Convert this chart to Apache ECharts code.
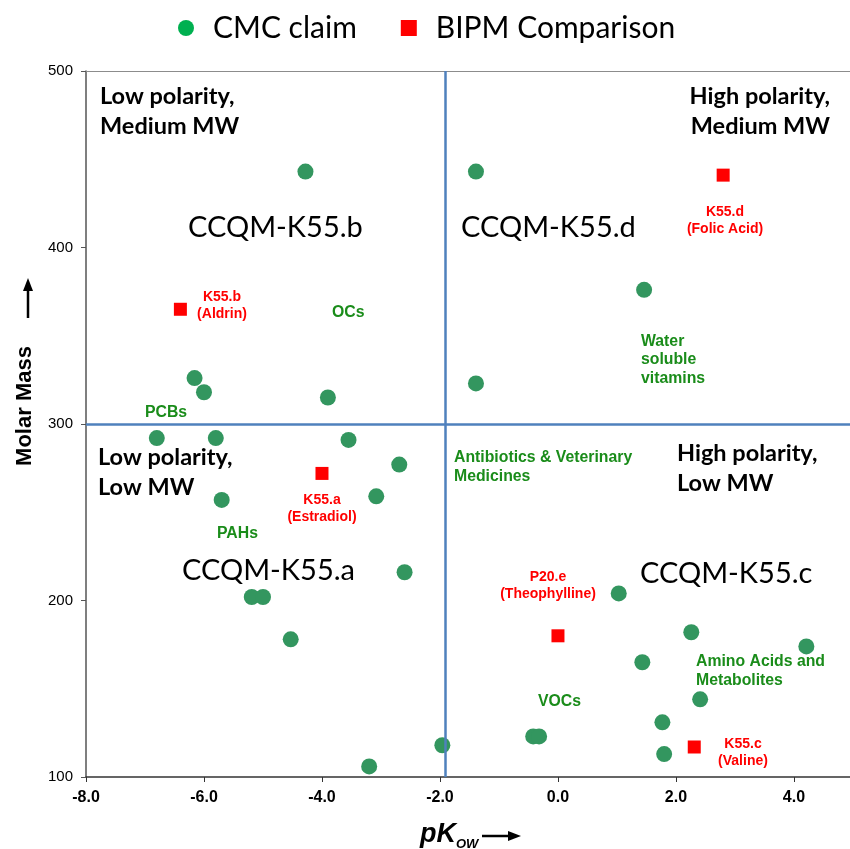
<!DOCTYPE html>
<html>
<head>
<meta charset="utf-8">
<script src="https://cdn.jsdelivr.net/npm/echarts@6/dist/echarts.min.js"></script>
<style>
  html, body { margin: 0; padding: 0; background: #fff; }
  #chart { width: 850px; height: 849px; }
</style>
</head>
<body>
<div id="chart"></div>
<script>
// CMC claims: pKow and molar mass
const cmcPkow = [-4.28, -1.39, 1.46, -1.39, -6.16, -6.00, -3.90, -6.80, -5.80, -3.55,
                 -2.69, -3.08, -5.70, -2.60, -5.19, -5.00, -4.53, -1.96, -3.20, -0.42,
                 -0.32, 1.03, 2.26, 1.43, 4.21, 2.41, 1.77, 1.80];
const cmcMass = [443, 443, 376, 323, 326, 318, 315, 292, 292, 291,
                 277, 259, 257, 216, 202, 202, 178, 118, 106, 123,
                 123, 204, 182, 165, 174, 144, 131, 113];

// BIPM key comparisons
const bipmNames = ['K55.b (Aldrin)', 'K55.a (Estradiol)', 'P20.e (Theophylline)', 'K55.d (Folic Acid)', 'K55.c (Valine)'];
const bipmPkow = [-6.40, -4.00, 0.00, 2.80, 2.31];
const bipmMass = [365, 272, 180, 441, 117];

// quadrant dividers
const pkowDivider = -1.91;
const massDivider = 300;

// axis ranges
const xMin = -8, xMax = 4.95, xStep = 2;
const yMin = 100, yMax = 500, yStep = 100;

const GREEN_DOT = '#33965f';
const GREEN_TXT = '#1a8c1a';
const RED = '#ff0000';
const BLUE = '#4f81bd';
const SANS = '"Liberation Sans", Arial, sans-serif';
const HUMANIST = 'Lato, "Open Sans", sans-serif';

const chart = echarts.init(document.getElementById('chart'));

function txt(text, x, y, opts) {
  return {
    type: 'text', silent: true, z: 20,
    style: Object.assign({
      text: text, x: x, y: y,
      fill: '#000', align: 'left', verticalAlign: 'middle'
    }, opts)
  };
}

const quadFont = { fontFamily: HUMANIST, fontWeight: 'bold', fontSize: 23.5, lineHeight: 30 };
const bigFont = { fontFamily: HUMANIST, fontWeight: 'normal', fontSize: 29 };
const greenFont = { fontFamily: SANS, fontWeight: 'bold', fontSize: 15.8, lineHeight: 18.5, fill: GREEN_TXT };
const redFont = { fontFamily: SANS, fontWeight: 'bold', fontSize: 14, lineHeight: 16.7, fill: RED, align: 'center' };

const graphics = [
  // quadrant headings
  txt('Low polarity,\nMedium MW', 100, 111, quadFont),
  txt('High polarity,\nMedium MW', 830, 111, Object.assign({}, quadFont, { align: 'right' })),
  txt('Low polarity,\nLow MW', 98, 472, quadFont),
  txt('High polarity,\nLow MW', 677, 468, quadFont),
  // comparison names
  txt('CCQM-K55.b', 188, 228, bigFont),
  txt('CCQM-K55.d', 461, 228, bigFont),
  txt('CCQM-K55.a', 182, 571, bigFont),
  txt('CCQM-K55.c', 640, 574, bigFont),
  // analyte groups
  txt('OCs', 332, 313, greenFont),
  txt('PCBs', 145, 413, greenFont),
  txt('Water\nsoluble\nvitamins', 641, 360, greenFont),
  txt('PAHs', 217, 534, greenFont),
  txt('Antibiotics & Veterinary\nMedicines', 454, 467, greenFont),
  txt('VOCs', 538, 702, greenFont),
  txt('Amino Acids and\nMetabolites', 696, 671, greenFont),
  // comparison analytes
  txt('K55.b\n(Aldrin)', 222, 305.5, redFont),
  txt('K55.d\n(Folic Acid)', 725, 220.5, redFont),
  txt('K55.a\n(Estradiol)', 322, 508.5, redFont),
  txt('P20.e\n(Theophylline)', 548, 585.5, redFont),
  txt('K55.c\n(Valine)', 743, 752.5, redFont),
  // y-axis title with arrow
  {
    type: 'text', silent: true, rotation: Math.PI / 2, x: 25, y: 406,
    style: { text: 'Molar Mass', fontFamily: SANS, fontWeight: 'bold', fontSize: 22,
             fill: '#000', align: 'center', verticalAlign: 'middle' }
  },
  { type: 'line', silent: true, shape: { x1: 28, y1: 318, x2: 28, y2: 288 },
    style: { stroke: '#000', lineWidth: 2.5 } },
  { type: 'polygon', silent: true, shape: { points: [[28, 278], [23, 291], [33, 291]] },
    style: { fill: '#000' } },
  // x-axis title with arrow
  txt('pK', 420, 835, { fontFamily: SANS, fontWeight: 'bold', fontStyle: 'italic', fontSize: 27 }),
  txt('OW', 456, 844, { fontFamily: SANS, fontWeight: 'bold', fontStyle: 'italic', fontSize: 13 }),
  { type: 'line', silent: true, shape: { x1: 482, y1: 836, x2: 510, y2: 836 },
    style: { stroke: '#000', lineWidth: 2.5 } },
  { type: 'polygon', silent: true, shape: { points: [[521, 836], [508, 831], [508, 841]] },
    style: { fill: '#000' } }
];

chart.setOption({
  animation: false,
  backgroundColor: '#fff',
  legend: {
    top: 8, left: 173,
    itemGap: 44,
    itemWidth: 16, itemHeight: 16,
    textStyle: { fontFamily: HUMANIST, fontSize: 30, color: '#000', padding: [0, 0, 0, 14] },
    data: [
      { name: 'CMC claim', icon: 'circle', itemStyle: { color: '#00b050' } },
      { name: 'BIPM Comparison', icon: 'rect', itemStyle: { color: RED } }
    ]
  },
  grid: { left: 86, right: 0, top: 71, bottom: 72 },
  xAxis: [
    {
      type: 'value', min: xMin, max: xMax, interval: xStep,
      axisLine: { show: true, onZero: false, lineStyle: { color: '#333', width: 1.5 } },
      axisTick: { show: true, length: 5, lineStyle: { color: '#333' } },
      splitLine: { show: false },
      axisLabel: {
        showMaxLabel: false, margin: 13,
        color: '#000', fontFamily: SANS, fontWeight: 'bold', fontSize: 16,
        formatter: v => v.toFixed(1)
      }
    },
    {
      // plain frame line along the top of the plot
      type: 'value', position: 'top', min: xMin, max: xMax, interval: xStep,
      axisLine: { show: true, onZero: false, lineStyle: { color: '#8c8c8c', width: 1.2 } },
      axisTick: { show: false }, axisLabel: { show: false }, splitLine: { show: false }
    }
  ],
  yAxis: {
    type: 'value', min: yMin, max: yMax, interval: yStep,
    axisLine: { show: true, onZero: false, lineStyle: { color: '#555', width: 1.5 } },
    axisTick: { show: true, length: 5, lineStyle: { color: '#555' } },
    splitLine: { show: false },
    axisLabel: { margin: 13, color: '#000', fontFamily: SANS, fontSize: 15 }
  },
  series: [
    {
      name: 'CMC claim', type: 'scatter', symbol: 'circle', symbolSize: 16,
      itemStyle: { color: GREEN_DOT, opacity: 1 },
      data: cmcPkow.map((x, i) => [x, cmcMass[i]]),
      markLine: {
        silent: true, symbol: 'none', z: 6,
        label: { show: false },
        lineStyle: { color: BLUE, width: 2.5, type: 'solid' },
        data: [{ xAxis: pkowDivider }, { yAxis: massDivider }]
      }
    },
    {
      name: 'BIPM Comparison', type: 'scatter', symbol: 'rect', symbolSize: 13,
      itemStyle: { color: RED, opacity: 1 },
      data: bipmPkow.map((x, i) => ({ name: bipmNames[i], value: [x, bipmMass[i]] }))
    }
  ],
  graphic: graphics
});
</script>
</body>
</html>
